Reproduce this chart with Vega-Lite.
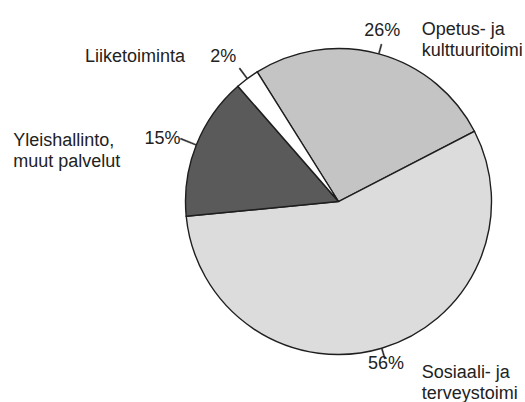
{
  "$schema": "https://vega.github.io/schema/vega-lite/v6.json",
  "width": 373,
  "height": 403,
  "padding": {"left": 152, "top": 0, "right": 0, "bottom": 0},
  "autosize": {"type": "none"},
  "background": "white",
  "config": {"view": {"stroke": null}},
  "data": {
    "values": [
      {"order": 1, "name": "Opetus- ja\nkulttuuritoimi", "pct": "26%", "value": 26.3},
      {"order": 2, "name": "Sosiaali- ja\nterveystoimi", "pct": "56%", "value": 56.0},
      {"order": 3, "name": "Yleishallinto,\nmuut palvelut", "pct": "15%", "value": 15.1},
      {"order": 4, "name": "Liiketoiminta", "pct": "2%", "value": 2.5}
    ]
  },
  "encoding": {
    "theta": {"field": "value", "type": "quantitative", "stack": true, "scale": {"range": [-0.5603, 5.7229]}},
    "order": {"field": "order", "type": "quantitative"}
  },
  "layer": [
    {
      "mark": {"type": "arc", "outerRadius": 153, "stroke": "#1e1e1e", "strokeWidth": 1.4},
      "encoding": {
        "color": {
          "field": "order",
          "type": "nominal",
          "scale": {"domain": [1, 2, 3, 4], "range": ["#c4c4c4", "#dcdcdc", "#5a5a5a", "#ffffff"]},
          "legend": null
        }
      }
    },
    {
      "transform": [
        {"stack": "value", "groupby": [], "sort": [{"field": "order", "order": "ascending"}], "as": ["v0", "v1"]}
      ],
      "mark": {
        "type": "arc",
        "innerRadius": 153,
        "outerRadius": {"expr": "datum.order == 1 ? 163 : datum.order == 2 ? 164 : datum.order == 3 ? 170 : 166"},
        "fill": "#2a2a2a",
        "stroke": "#2a2a2a",
        "strokeWidth": 0.4,
        "thetaOffset": {"expr": "datum.value * 0.0314475 - 0.004"},
        "theta2Offset": {"expr": "-(datum.value * 0.0314475 - 0.004)"}
      },
      "encoding": {
        "theta": {"field": "v0", "type": "quantitative"},
        "theta2": {"field": "v1"}
      }
    },
    {
      "mark": {
        "type": "text",
        "font": "Liberation Sans",
        "fontSize": 18,
        "fill": "#222222",
        "align": "center",
        "baseline": "middle",
        "radius": {"expr": "datum.order <= 2 ? 172 : 186"},
        "dx": {"expr": "datum.order == 1 ? -1.6 : datum.order == 2 ? -1.2 : datum.order == 3 ? -3.2 : -4.4"},
        "dy": {"expr": "datum.order == 1 ? -5 : datum.order == 2 ? -2 : datum.order == 3 ? 6.4 : 4.4"}
      },
      "encoding": {"text": {"field": "pct", "type": "nominal"}}
    },
    {
      "mark": {
        "type": "text",
        "font": "Liberation Sans",
        "fontSize": 18,
        "fill": "#222222",
        "align": "left",
        "baseline": "middle",
        "lineBreak": "\n",
        "lineHeight": 21,
        "radius": {"expr": "datum.order <= 2 ? 172 : 186"},
        "dx": {"expr": "datum.order == 1 ? 37.8 : datum.order == 2 ? 34.7 : datum.order == 3 ? -152.4 : -142.7"},
        "dy": {"expr": "datum.order == 1 ? -5.6 : datum.order == 2 ? 7 : datum.order == 3 ? 8.7 : 4.4"}
      },
      "encoding": {"text": {"field": "name", "type": "nominal"}}
    }
  ]
}
